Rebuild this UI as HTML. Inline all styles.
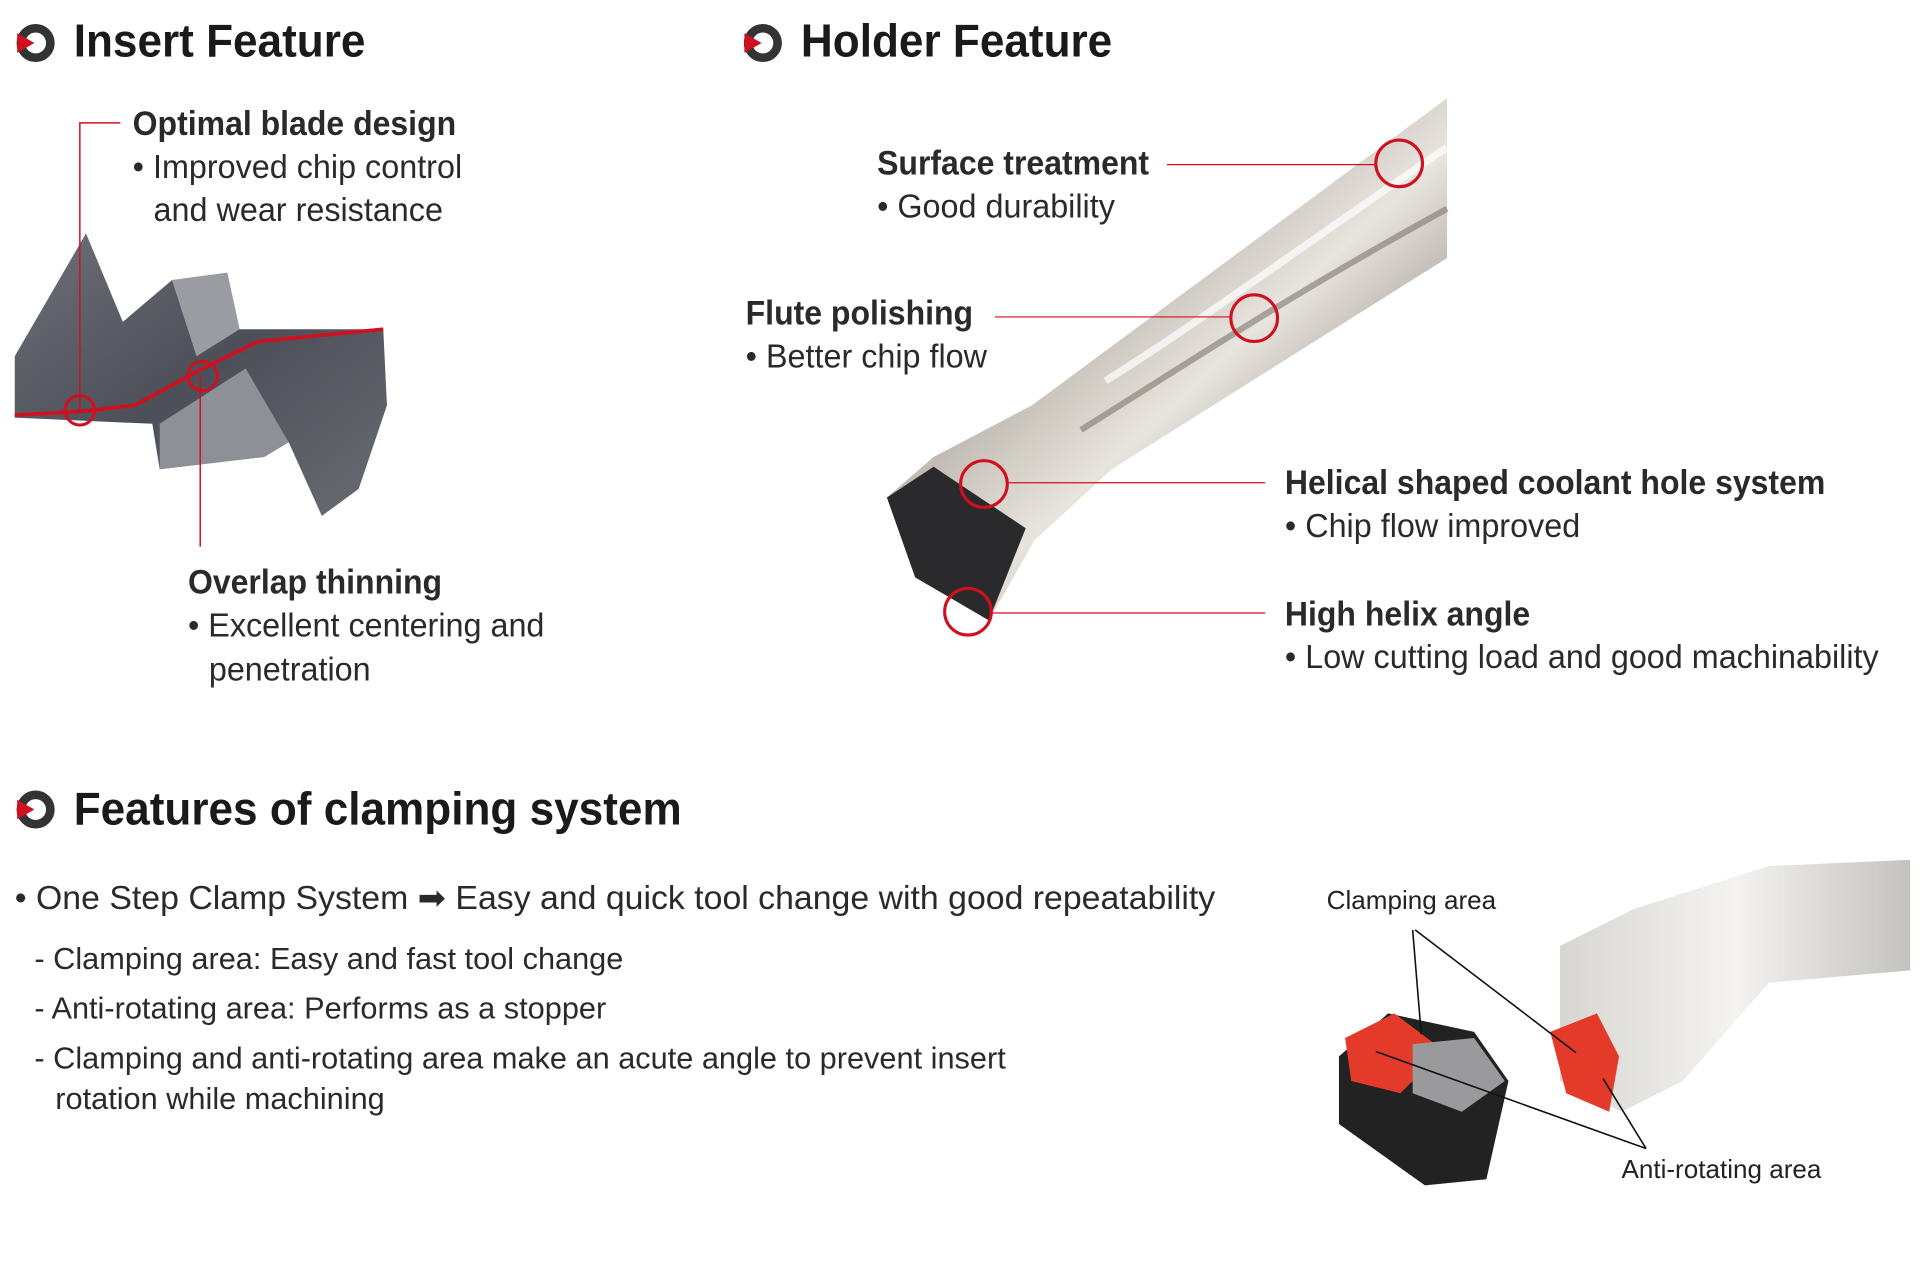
<!DOCTYPE html>
<html><head><meta charset="utf-8"><style>
html,body{margin:0;padding:0;background:#fff;}
#wrap{width:1920px;height:1263px;overflow:hidden;position:relative;background:#fff;}
#in{position:absolute;left:0;top:0;width:1563px;height:1030px;transform:scale(1.2284);transform-origin:0 0;font-family:"Liberation Sans",sans-serif;color:#222;}
.t{position:absolute;white-space:nowrap;line-height:1;transform-origin:0 0;}
.h{font-size:38px;font-weight:bold;transform:scaleX(.945);color:#1a1a1a;}
.b{font-size:28px;font-weight:bold;transform:scaleX(.93);color:#2a2a2a;}
.n{font-size:27px;transform:scaleX(.975);color:#2a2a2a;}
.s{font-size:25px;transform:scaleX(1.0);color:#2a2a2a;}
.sm{font-size:21px;transform:scaleX(1.01);color:#222;}
svg{position:absolute;left:0;top:0;}
</style></head><body><div id="wrap"><div id="in">
<svg width="1563" height="1030" viewBox="0 0 1563 1030">
<defs>
<linearGradient id="sil" x1="0" y1="0" x2="1" y2="1">
<stop offset="0" stop-color="#f2f0ec"/><stop offset=".35" stop-color="#b8b2a8"/><stop offset=".55" stop-color="#e8e4de"/><stop offset=".8" stop-color="#8e887f"/><stop offset="1" stop-color="#d8d4ce"/></linearGradient>
<linearGradient id="ins" x1="0" y1="0" x2="1" y2="1">
<stop offset="0" stop-color="#6e7079"/><stop offset=".5" stop-color="#4d4f58"/><stop offset="1" stop-color="#6a6c74"/></linearGradient>
<linearGradient id="sil2" x1="0" y1="0" x2="1" y2="0">
<stop offset="0" stop-color="#d8d6d2"/><stop offset=".5" stop-color="#f4f3f1"/><stop offset="1" stop-color="#c4c2be"/></linearGradient>
</defs>
<g id="ic"><circle cx="29" cy="35" r="12" fill="none" stroke="#333" stroke-width="7"/><polygon points="14,27 28,35 14,43" fill="#d0101e"/></g>
<use href="#ic" x="592" y="0"/>
<use href="#ic" x="0" y="624"/>
<polygon points="12,290 70,190 100,262 140,228 185,222 195,268 312,268 315,330 292,398 262,420 235,360 215,372 130,382 124,345 12,340" fill="url(#ins)"/>
<polygon points="130,345 200,300 235,360 215,372 130,382" fill="#8e9098"/>
<polygon points="140,228 185,222 195,268 160,290" fill="#9a9ca2"/>
<polyline points="12,338 65,335 110,330 165,300 210,278 312,268" fill="none" stroke="#d0101e" stroke-width="3"/>
<polyline points="98,100 65,100 65,335" fill="none" stroke="#d0101e" stroke-width="1.2"/>
<line x1="163" y1="305" x2="163" y2="445" stroke="#d0101e" stroke-width="1.2"/>
<circle cx="65" cy="334" r="12" fill="none" stroke="#d0101e" stroke-width="2.5"/>
<circle cx="165" cy="306" r="12" fill="none" stroke="#d0101e" stroke-width="2.5"/>
<polygon points="722,405 760,372 840,330 1178,80 1178,210 905,382 842,440 805,505 745,470" fill="url(#sil)"/>
<polygon points="722,405 760,380 835,430 805,505 745,470" fill="#2a2a2c"/>
<path d="M900,310 C980,260 1060,200 1178,120" stroke="#fff" stroke-width="6" fill="none" opacity=".7"/>
<path d="M880,350 C960,300 1050,240 1178,170" stroke="#7d766c" stroke-width="5" fill="none" opacity=".6"/>
<line x1="950" y1="134" x2="1120" y2="134" stroke="#d0101e" stroke-width="1"/>
<line x1="810" y1="258" x2="1003" y2="258" stroke="#d0101e" stroke-width="1"/>
<line x1="820" y1="393" x2="1030" y2="393" stroke="#d0101e" stroke-width="1"/>
<line x1="808" y1="499" x2="1030" y2="499" stroke="#d0101e" stroke-width="1"/>
<circle cx="1139" cy="133" r="19" fill="none" stroke="#d0101e" stroke-width="2.5"/>
<circle cx="1021" cy="259" r="19" fill="none" stroke="#d0101e" stroke-width="2.5"/>
<circle cx="801" cy="394" r="19" fill="none" stroke="#d0101e" stroke-width="2.5"/>
<circle cx="788" cy="498" r="19" fill="none" stroke="#d0101e" stroke-width="2.5"/>
<polygon points="1270,770 1330,740 1440,705 1555,700 1555,790 1440,800 1370,880 1320,905 1270,880" fill="url(#sil2)"/>
<polygon points="1262,840 1300,825 1318,860 1310,905 1275,890" fill="#e43a2a"/>
<polygon points="1090,860 1130,825 1200,840 1228,880 1210,960 1160,965 1090,915" fill="#222"/>
<polygon points="1095,845 1135,825 1175,855 1140,890 1100,880" fill="#e43a2a"/>
<polygon points="1150,850 1200,845 1225,880 1190,905 1150,890" fill="#9a9a9c"/>
<g stroke="#111" stroke-width="1.3" fill="none">
<line x1="1150" y1="757" x2="1157" y2="842"/>
<line x1="1152" y1="757" x2="1283" y2="857"/>
<line x1="1120" y1="856" x2="1340" y2="935"/>
<line x1="1305" y1="878" x2="1340" y2="935"/>
</g>
</svg>
<div class="t h" style="left:60px;top:15px;">Insert Feature</div>
<div class="t h" style="left:652px;top:15px;">Holder Feature</div>
<div class="t h" style="left:60px;top:640px;">Features of clamping system</div>

<div class="t b" style="left:108px;top:87px;">Optimal blade design</div>
<div class="t n" style="left:108px;top:123px;">• Improved chip control</div>
<div class="t n" style="left:125px;top:158px;">and wear resistance</div>
<div class="t b" style="left:153px;top:460px;">Overlap thinning</div>
<div class="t n" style="left:153px;top:496px;">• Excellent centering and</div>
<div class="t n" style="left:170px;top:532px;">penetration</div>

<div class="t b" style="left:714px;top:119px;">Surface treatment</div>
<div class="t n" style="left:714px;top:155px;">• Good durability</div>
<div class="t b" style="left:607px;top:241px;">Flute polishing</div>
<div class="t n" style="left:607px;top:277px;">• Better chip flow</div>
<div class="t b" style="left:1046px;top:379px;">Helical shaped coolant hole system</div>
<div class="t n" style="left:1046px;top:415px;">• Chip flow improved</div>
<div class="t b" style="left:1046px;top:486px;">High helix angle</div>
<div class="t n" style="left:1046px;top:522px;">• Low cutting load and good machinability</div>

<div class="t n" style="left:12px;top:718px;transform:scaleX(1.02);">• One Step Clamp System ➡ Easy and quick tool change with good repeatability</div>
<div class="t s" style="left:28px;top:769px;">- Clamping area: Easy and fast tool change</div>
<div class="t s" style="left:28px;top:809px;">- Anti-rotating area: Performs as a stopper</div>
<div class="t s" style="left:28px;top:850px;">- Clamping and anti-rotating area make an acute angle to prevent insert</div>
<div class="t s" style="left:45px;top:883px;">rotation while machining</div>
<div class="t sm" style="left:1080px;top:723px;">Clamping area</div>
<div class="t sm" style="left:1320px;top:942px;">Anti-rotating area</div>
</div></div></body></html>
